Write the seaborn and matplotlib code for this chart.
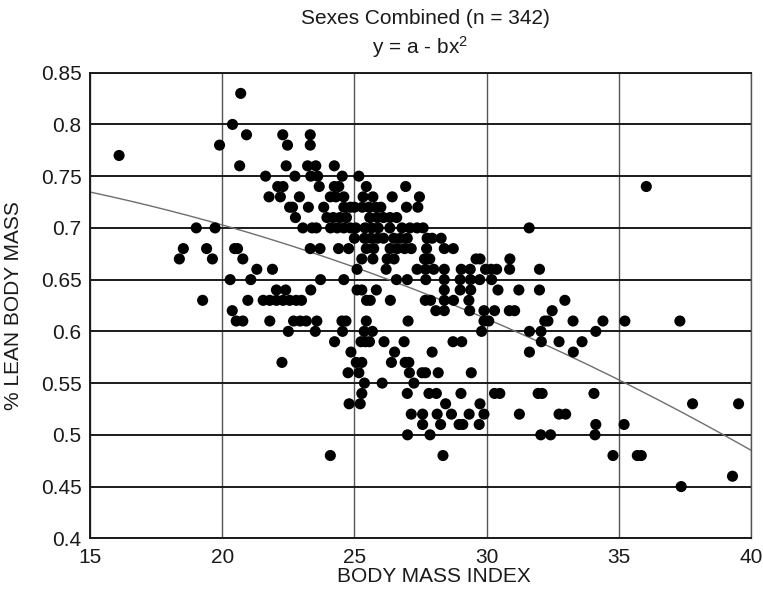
import matplotlib
matplotlib.use("Agg")
import matplotlib.pyplot as plt
import seaborn as sns
import numpy as np
import pandas as pd

# Body mass index of each subject (one line per lean-mass level)
bmi = [
    20.7,
    20.39,
    20.92, 22.29, 23.33,
    19.9, 22.47, 23.33,
    16.1,
    20.66, 22.42, 23.23, 23.54, 24.24,
    21.64, 22.75, 23.35, 23.61, 24.54, 25.17,
    22.1, 22.3, 23.67, 24.24, 24.41, 25.45, 26.94, 36.04,
    21.77, 22.2, 22.92, 24.09, 24.3, 24.6, 25.33, 25.7, 26.43, 27.46,
    22.55, 22.66, 23.26, 23.84, 24.6, 24.85, 25.0, 25.3, 25.55, 25.8, 26.0, 26.97, 27.4,
    22.77, 23.96, 24.2, 24.45, 24.7, 25.58, 25.86, 26.1, 26.35, 26.6,
    19.02, 19.73, 23.05, 23.4, 23.56, 24.1, 24.35, 24.6, 24.85, 25.05, 25.4, 25.65, 25.9, 26.34, 26.8, 27.1, 27.37, 27.6, 31.61,
    25.0, 25.38, 25.63, 25.88, 26.1, 26.49, 26.74, 27.0, 27.75, 27.94, 28.28,
    18.53, 19.41, 20.47, 20.58, 23.33, 23.7, 24.4, 24.78, 25.45, 25.73, 26.35, 26.62, 26.9, 27.15, 27.73, 28.4, 28.74,
    18.38, 19.63, 20.78, 25.28, 25.7, 26.24, 26.5, 27.65, 27.85, 29.6, 29.75, 30.88,
    21.31, 21.9, 25.1, 26.2, 27.37, 27.69, 28.0, 28.4, 29.04, 29.38, 29.96, 30.17, 30.38, 30.87, 32.0,
    20.3, 21.08, 23.72, 24.6, 26.59, 27.0, 27.7, 28.4, 29.0, 29.39, 29.74, 30.19,
    22.05, 22.4, 23.35, 25.1, 25.28, 25.83, 28.4, 29.0, 29.4, 30.43, 31.22, 32.0,
    19.26, 20.97, 21.55, 21.8, 22.05, 22.3, 22.55, 22.8, 23.0, 25.46, 25.6, 26.36, 27.68, 27.88, 28.4, 28.75, 29.33, 32.96,
    20.38, 28.08, 28.4, 29.36, 29.9, 30.3, 30.86, 31.06, 32.48,
    20.53, 20.78, 21.8, 22.7, 22.95, 23.18, 23.58, 24.53, 24.68, 25.45, 27.03, 29.9, 30.08, 32.2, 32.32, 33.27, 34.4, 35.23, 37.31,
    22.5, 23.52, 24.55, 25.37, 25.68, 29.81, 31.62, 32.06, 34.13,
    24.25, 25.25, 25.42, 25.57, 26.12, 26.88, 28.73, 29.06, 32.07, 32.74, 33.61,
    24.87, 26.52, 27.94, 31.62, 33.28,
    22.26, 25.07, 25.28, 26.4, 26.92, 27.06,
    24.76, 25.17, 27.08, 27.56, 27.69, 28.17, 29.42,
    25.38, 26.05, 27.25,
    25.28, 27.0, 27.82, 28.1, 29.03, 30.3, 30.5, 31.95, 32.1, 34.06,
    24.8, 25.22, 28.45, 29.75, 37.79, 39.53,
    27.15, 27.58, 28.13, 28.67, 29.34, 29.9, 31.24, 32.74, 32.99,
    27.58, 28.26, 28.96, 29.1, 29.72, 34.13, 35.2,
    27.01, 27.86, 32.05, 32.42, 34.1,
    24.09, 28.35, 34.78, 35.7, 35.85,
    39.3,
    37.36,
]

# Lean body mass fraction of each subject (same order as bmi)
lean = [
    0.83,
    0.80,
    0.79, 0.79, 0.79,
    0.78, 0.78, 0.78,
    0.77,
    0.76, 0.76, 0.76, 0.76, 0.76,
    0.75, 0.75, 0.75, 0.75, 0.75, 0.75,
    0.74, 0.74, 0.74, 0.74, 0.74, 0.74, 0.74, 0.74,
    0.73, 0.73, 0.73, 0.73, 0.73, 0.73, 0.73, 0.73, 0.73, 0.73,
    0.72, 0.72, 0.72, 0.72, 0.72, 0.72, 0.72, 0.72, 0.72, 0.72, 0.72, 0.72, 0.72,
    0.71, 0.71, 0.71, 0.71, 0.71, 0.71, 0.71, 0.71, 0.71, 0.71,
    0.70, 0.70, 0.70, 0.70, 0.70, 0.70, 0.70, 0.70, 0.70, 0.70, 0.70, 0.70, 0.70, 0.70, 0.70, 0.70, 0.70, 0.70, 0.70,
    0.69, 0.69, 0.69, 0.69, 0.69, 0.69, 0.69, 0.69, 0.69, 0.69, 0.69,
    0.68, 0.68, 0.68, 0.68, 0.68, 0.68, 0.68, 0.68, 0.68, 0.68, 0.68, 0.68, 0.68, 0.68, 0.68, 0.68, 0.68,
    0.67, 0.67, 0.67, 0.67, 0.67, 0.67, 0.67, 0.67, 0.67, 0.67, 0.67, 0.67,
    0.66, 0.66, 0.66, 0.66, 0.66, 0.66, 0.66, 0.66, 0.66, 0.66, 0.66, 0.66, 0.66, 0.66, 0.66,
    0.65, 0.65, 0.65, 0.65, 0.65, 0.65, 0.65, 0.65, 0.65, 0.65, 0.65, 0.65,
    0.64, 0.64, 0.64, 0.64, 0.64, 0.64, 0.64, 0.64, 0.64, 0.64, 0.64, 0.64,
    0.63, 0.63, 0.63, 0.63, 0.63, 0.63, 0.63, 0.63, 0.63, 0.63, 0.63, 0.63, 0.63, 0.63, 0.63, 0.63, 0.63, 0.63,
    0.62, 0.62, 0.62, 0.62, 0.62, 0.62, 0.62, 0.62, 0.62,
    0.61, 0.61, 0.61, 0.61, 0.61, 0.61, 0.61, 0.61, 0.61, 0.61, 0.61, 0.61, 0.61, 0.61, 0.61, 0.61, 0.61, 0.61, 0.61,
    0.60, 0.60, 0.60, 0.60, 0.60, 0.60, 0.60, 0.60, 0.60,
    0.59, 0.59, 0.59, 0.59, 0.59, 0.59, 0.59, 0.59, 0.59, 0.59, 0.59,
    0.58, 0.58, 0.58, 0.58, 0.58,
    0.57, 0.57, 0.57, 0.57, 0.57, 0.57,
    0.56, 0.56, 0.56, 0.56, 0.56, 0.56, 0.56,
    0.55, 0.55, 0.55,
    0.54, 0.54, 0.54, 0.54, 0.54, 0.54, 0.54, 0.54, 0.54, 0.54,
    0.53, 0.53, 0.53, 0.53, 0.53, 0.53,
    0.52, 0.52, 0.52, 0.52, 0.52, 0.52, 0.52, 0.52, 0.52,
    0.51, 0.51, 0.51, 0.51, 0.51, 0.51, 0.51,
    0.50, 0.50, 0.50, 0.50, 0.50,
    0.48, 0.48, 0.48, 0.48, 0.48,
    0.46,
    0.45,
]

# Fitted model  y = a - b * x^2
fit_a = 0.7755
fit_b = 0.0001815

x_ticks = [15, 20, 25, 30, 35, 40]
y_ticks = [0.4, 0.45, 0.5, 0.55, 0.6, 0.65, 0.7, 0.75, 0.8, 0.85]
y_tick_labels = ["0.4", "0.45", "0.5", "0.55", "0.6", "0.65", "0.7", "0.75", "0.8", "0.85"]

title_main = "Sexes Combined (n = 342)"
title_model = r"y = a - bx$^{2}$"
x_label = "BODY MASS INDEX"
y_label = "% LEAN BODY MASS"

sns.set_style("white")
plt.rcParams["font.family"] = ["Liberation Sans", "DejaVu Sans"]
plt.rcParams["mathtext.fontset"] = "custom"
plt.rcParams["mathtext.rm"] = "Liberation Sans"
plt.rcParams["mathtext.it"] = "Liberation Sans"
plt.rcParams["mathtext.default"] = "regular"

W, H = 763, 592
fig = plt.figure(figsize=(W / 100, H / 100), dpi=100)
left, right, top, bottom = 90, 751, 72.7, 538.3
ax = fig.add_axes([left / W, 1 - bottom / H, (right - left) / W, (bottom - top) / H])

df = pd.DataFrame({"bmi": bmi, "lean": lean})
sns.scatterplot(data=df, x="bmi", y="lean", ax=ax, color="black", s=64,
                edgecolor="none", linewidth=0, zorder=3, legend=False)

curve_x = np.linspace(15, 40, 300)
curve = pd.DataFrame({"x": curve_x, "y": fit_a - fit_b * curve_x ** 2})
sns.lineplot(data=curve, x="x", y="y", ax=ax, color="#6e6e6e", linewidth=1.0, zorder=2)

ax.set_xlim(15, 40)
ax.set_ylim(0.4, 0.85)
ax.set_xticks(x_ticks)
ax.set_xticklabels([str(t) for t in x_ticks])
ax.set_yticks(y_ticks)
ax.set_yticklabels(y_tick_labels)

ax.grid(axis="y", color="#1a1a1a", linewidth=1.4, zorder=1)
ax.grid(axis="x", color="#555555", linewidth=1.0, zorder=1)
ax.set_axisbelow(True)
for side in ["left", "right", "top", "bottom"]:
    ax.spines[side].set_visible(True)
    ax.spines[side].set_color("#1a1a1a")
    ax.spines[side].set_linewidth(1.4)
ax.spines["right"].set_color("#555555")
ax.spines["right"].set_linewidth(1.0)

ax.tick_params(axis="both", direction="out", length=4, width=1, color="#1a1a1a",
               labelsize=15, labelcolor="#1a1a1a")
ax.tick_params(axis="y", pad=2)
ax.tick_params(axis="x", pad=3)

ax.set_xlabel(x_label, fontsize=15, color="#1a1a1a")
ax.set_ylabel(y_label, fontsize=15, color="#1a1a1a")
ax.xaxis.set_label_coords((434 - left) / (right - left), (bottom - 576) / (bottom - top))
ax.xaxis.label.set_va("center")
ax.yaxis.set_label_coords((14 - left) / (right - left), 0.5)
ax.yaxis.label.set_va("center")

fig.text(425 / W, 1 - 18 / H, title_main, ha="center", va="center", fontsize=15, color="#1a1a1a")
fig.text(420 / W, 1 - 47 / H, title_model, ha="center", va="center", fontsize=15, color="#1a1a1a")

fig.savefig("out.png", dpi=100, facecolor="white")
